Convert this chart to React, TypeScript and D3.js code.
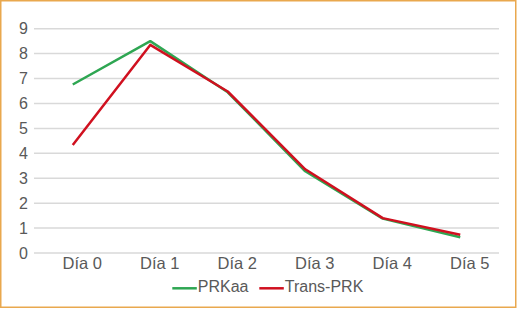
import React from "react";
import * as d3 from "d3";

const categories = ["Día 0", "Día 1", "Día 2", "Día 3", "Día 4", "Día 5"];
const prkaa = [6.76, 8.5, 6.45, 3.28, 1.38, 0.63];
const transPrk = [4.33, 8.35, 6.48, 3.36, 1.4, 0.73];
const yTicks = [0, 1, 2, 3, 4, 5, 6, 7, 8, 9];
const seriesNames = ["PRKaa", "Trans-PRK"];
const seriesColors = ["#2EA652", "#D0101F"];

export default function App() {
  const W = 517, H = 310;
  const left = 34, right = 499, top = 28.7, bottom = 253;
  const x = d3.scaleBand<string>().domain(categories).range([left, right]);
  const y = d3.scaleLinear().domain([0, 9]).range([bottom, top]);
  const line = d3
    .line<number>()
    .x((_, i) => (x(categories[i]) as number) + x.bandwidth() / 2)
    .y((d) => y(d));
  const series = [prkaa, transPrk];
  const font = "Liberation Sans, Arial, sans-serif";
  return (
    <svg
      width={W}
      height={H}
      style={{ position: "absolute", left: 0, top: 0 }}
      fontFamily={font}
    >
      <rect x={0} y={0} width={W} height={H} fill="#fff" />
      <rect x={0.75} y={0.75} width={W - 2} height={306.5} fill="none" stroke="#E9A84E" strokeWidth={1.5} />
      {yTicks.map((t) => (
        <g key={t}>
          <line x1={left} x2={right} y1={y(t)} y2={y(t)} stroke="#D9D9D9" strokeWidth={1.5} />
          <text x={28} y={y(t) + 5.6} textAnchor="end" fontSize={16} fill="#595959">
            {t}
          </text>
        </g>
      ))}
      {categories.map((c) => (
        <text
          key={c}
          x={(x(c) as number) + x.bandwidth() / 2 + 9.5}
          y={269.3}
          textAnchor="middle"
          fontSize={16.5}
          fill="#595959"
        >
          {c}
        </text>
      ))}
      {series.map((s, i) => (
        <path
          key={i}
          d={line(s) as string}
          fill="none"
          stroke={seriesColors[i]}
          strokeWidth={2.5}
          strokeLinejoin="round"
        />
      ))}
      {seriesNames.map((n, i) => {
        const lx = i === 0 ? 172.3 : 259.3;
        return (
          <g key={n}>
            <line x1={lx} x2={lx + 24.5} y1={288.3} y2={288.3} stroke={seriesColors[i]} strokeWidth={2.5} />
            <text x={lx + 25.5} y={291.7} fontSize={16} fill="#595959">
              {n}
            </text>
          </g>
        );
      })}
    </svg>
  );
}
